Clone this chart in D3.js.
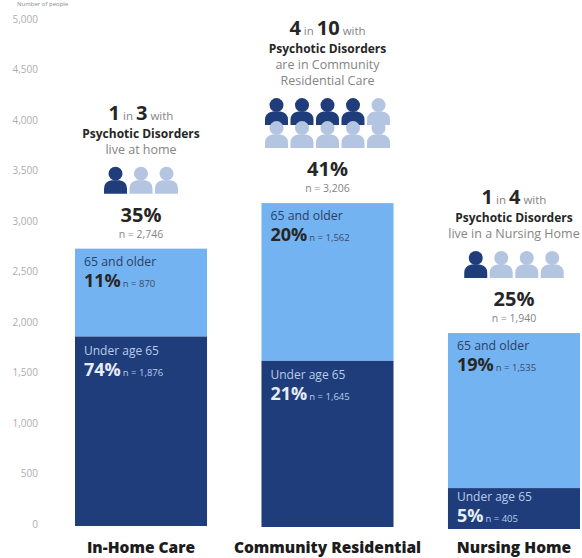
<!DOCTYPE html>
<html>
<head>
<meta charset="utf-8">
<script src="https://cdn.jsdelivr.net/npm/d3@7/dist/d3.min.js"></script>
<style>
  html, body { margin: 0; padding: 0; background: #fff; }
  text { font-family: "Open Sans", sans-serif; }
</style>
</head>
<body>
<svg id="chart" width="582" height="558"></svg>
<script>
// Care settings along the x axis
const settings = ["In-Home Care", "Community Residential", "Nursing Home"];

// People counted in each age group, per setting
const under65 = [1876, 1645, 405];
const over65 = [870, 1562, 1535];

// Printed labels
const under65Pct = ["74%", "21%", "5%"];
const over65Pct = ["11%", "20%", "19%"];
const under65N = ["n = 1,876", "n = 1,645", "n = 405"];
const over65N = ["n = 870", "n = 1,562", "n = 1,535"];
const totalPct = ["35%", "41%", "25%"];
const totalN = ["n = 2,746", "n = 3,206", "n = 1,940"];

// Headline ratios and the pictogram each one drives
const ratioHead = ["1", "4", "1"];
const ratioTail = ["3", "10", "4"];
const ratioSecond = ["Psychotic Disorders", "Psychotic Disorders", "Psychotic Disorders"];
const ratioRest = [["live at home"], ["are in Community", "Residential Care"], ["live in a Nursing Home"]];
const filledPeople = [1, 4, 1];
const totalPeople = [3, 10, 4];

const tickValues = [0, 500, 1000, 1500, 2000, 2500, 3000, 3500, 4000, 4500, 5000];

const navy = "#1f3d7a", sky = "#74b3f2", paleIcon = "#b4c5e1", ink = "#262626", soft = "#858585";

const svg = d3.select("#chart");
const y = d3.scaleLinear().domain([0, 5000]).range([524, 19]);
const x = d3.scaleBand().domain(settings).range([75, 580]).paddingInner(0.292).paddingOuter(0);
// The columns sit slightly lower from left to right
const sink = d3.scaleOrdinal().domain(settings).range([2, 3, 5]);

// Value axis: labels only, no line or tick marks
const axis = d3.axisLeft(y).tickValues(tickValues).tickFormat(d3.format(",")).tickSize(0).tickPadding(0);
const axisG = svg.append("g").attr("transform", "translate(38,0)").call(axis);
axisG.select(".domain").remove();
axisG.selectAll("text").attr("fill", "#adadad").style("font-size", "10px").style("font-family", '"Open Sans", sans-serif');

// Axis caption squeezed against the top edge
svg.append("text").attr("x", 17).attr("y", 6).attr("font-size", 6).attr("fill", "#8a8a8a").text("Number of people");

// A person glyph: head and shoulders, drawn around a local origin at the bottom centre
function person(g, fill) {
  g.append("circle").attr("cx", 0).attr("cy", -20).attr("r", 7).attr("fill", fill);
  g.append("path").attr("fill", fill)
    .attr("d", "M-11.5,0 L-11.5,-5 Q-11.5,-12.5 -4,-13.5 L4,-13.5 Q11.5,-12.5 11.5,-5 L11.5,0 Z");
}

settings.forEach((name, i) => {
  const g = svg.append("g").attr("transform", `translate(0,${sink(name)})`);
  const left = x(name), w = x.bandwidth(), mid = left + w / 2;
  const total = under65[i] + over65[i];

  // Stacked bar
  g.append("rect").attr("x", left).attr("width", w)
    .attr("y", y(total)).attr("height", y(under65[i]) - y(total)).attr("fill", sky);
  g.append("rect").attr("x", left).attr("width", w)
    .attr("y", y(under65[i])).attr("height", y(0) - y(under65[i])).attr("fill", navy);

  // Labels inside the upper segment
  const upTop = y(total), lowTop = y(under65[i]);
  g.append("text").attr("x", left + 9).attr("y", upTop + 17).attr("font-size", 12.3).attr("fill", "#2b3f63").text("65 and older");
  const upLine = g.append("text").attr("x", left + 9).attr("y", upTop + 38).attr("fill", ink);
  upLine.append("tspan").attr("font-size", 18).attr("font-weight", 700).text(over65Pct[i]);
  upLine.append("tspan").attr("font-size", 9.5).attr("fill", "#3b4a66").attr("dx", 2).text(over65N[i]);

  // Labels inside the lower segment; the short segment packs them tighter
  const short = y(0) - lowTop < 60;
  g.append("text").attr("x", left + 9).attr("y", lowTop + (short ? 13 : 18)).attr("font-size", 12).attr("fill", "#b9cdea").text("Under age 65");
  const lowLine = g.append("text").attr("x", left + 9).attr("y", lowTop + (short ? 34 : 39)).attr("fill", "#e6edf7");
  lowLine.append("tspan").attr("font-size", 18).attr("font-weight", 700).text(under65Pct[i]);
  lowLine.append("tspan").attr("font-size", 9.5).attr("fill", "#b9cdea").attr("dx", 2).text(under65N[i]);

  // Category name under the bar
  svg.append("text").attr("x", mid).attr("y", 553).attr("text-anchor", "middle")
    .attr("font-size", 15.5).attr("font-weight", 800).attr("fill", "#1c1c1c").text(name);

  // Total above the bar
  g.append("text").attr("x", mid).attr("y", upTop - 11).attr("text-anchor", "middle")
    .attr("font-size", 10.5).attr("fill", soft).text(totalN[i]);
  g.append("text").attr("x", mid).attr("y", upTop - 27).attr("text-anchor", "middle")
    .attr("font-size", 20).attr("font-weight", 700).attr("fill", ink).text(totalPct[i]);

  // Pictogram: two rows when there are ten people, one row otherwise
  const perRow = totalPeople[i] > 5 ? 5 : totalPeople[i];
  const rows = Math.ceil(totalPeople[i] / perRow);
  const step = 25.5, rowStep = 23, iconHeight = 27;
  const iconsBottom = upTop - 55;
  d3.range(totalPeople[i]).forEach(k => {
    const row = Math.floor(k / perRow), col = k % perRow;
    const px = mid + (col - (perRow - 1) / 2) * step;
    const py = iconsBottom - (rows - 1 - row) * rowStep;
    person(g.append("g").attr("transform", `translate(${px},${py})`), k < filledPeople[i] ? navy : paleIcon);
  });

  // Headline text stacked above the pictogram
  let lineY = iconsBottom - (rows - 1) * rowStep - iconHeight - 13;
  ratioRest[i].slice().reverse().forEach(line => {
    g.append("text").attr("x", mid).attr("y", lineY).attr("text-anchor", "middle")
      .attr("font-size", 12.5).attr("fill", soft).text(line);
    lineY -= 16;
  });
  g.append("text").attr("x", mid).attr("y", lineY).attr("text-anchor", "middle")
    .attr("font-size", 12).attr("font-weight", 700).attr("fill", ink).text(ratioSecond[i]);
  const head = g.append("text").attr("x", mid).attr("y", lineY - 18).attr("text-anchor", "middle").attr("fill", ink);
  head.append("tspan").attr("font-size", 20).attr("font-weight", 700).text(ratioHead[i]);
  head.append("tspan").attr("font-size", 11.5).attr("fill", soft).text(" in ");
  head.append("tspan").attr("font-size", 20).attr("font-weight", 700).text(ratioTail[i]);
  head.append("tspan").attr("font-size", 11.5).attr("fill", soft).text(" with");
});
</script>
</body>
</html>
